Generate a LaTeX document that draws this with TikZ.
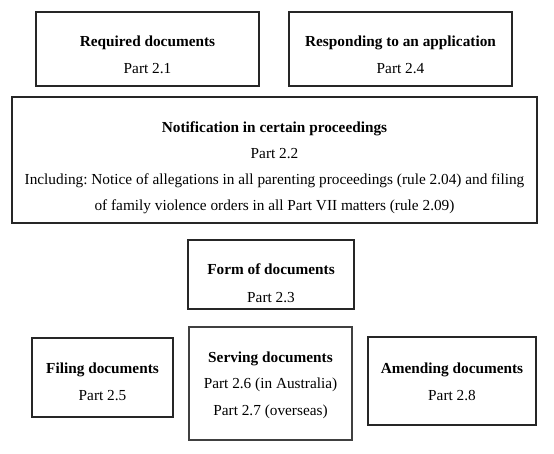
\documentclass[tikz,border=0pt]{standalone}
\usepackage{fontspec}
\setmainfont{Liberation Serif}
\begin{document}
\frenchspacing
\begin{tikzpicture}[x=1pt,y=-1pt,
  box/.style={draw=black!85,line width=1.1pt,inner sep=0pt},
  txt/.style={anchor=base,inner sep=0pt,font=\fontsize{15.3}{17}\selectfont},
  ttl/.style={txt,font=\fontsize{15.3}{17}\selectfont\bfseries}]
\useasboundingbox (0,0) rectangle (554,454);
% boxes
\node[box,minimum width=223pt,minimum height=74pt] (req) at (147.5,49) {};
\node[box,minimum width=223pt,minimum height=74pt] (resp) at (400.5,49) {};
\node[box,minimum width=525pt,minimum height=126pt] (notif) at (274.5,160) {};
\node[box,minimum width=166pt,minimum height=69pt] (form) at (271,274.5) {};
\node[box,minimum width=141pt,minimum height=79pt] (fil) at (102.5,377.5) {};
\node[box,draw=black!75,line width=1.4pt,minimum width=163pt,minimum height=113pt] (serv) at (270.5,383.5) {};
\node[box,minimum width=168pt,minimum height=88pt] (amend) at (452,381) {};
% texts
\node[ttl] (reqT) at (147.5,47) {Required documents};
\node[txt] (reqP) at (147.5,74) {Part 2.1};
\node[ttl] (respT) at (400.5,47) {Responding to an application};
\node[txt] (respP) at (400.5,74) {Part 2.4};
\node[ttl] (notT) at (274.5,133) {Notification in certain proceedings};
\node[txt] (notP) at (274.5,159) {Part 2.2};
\node[txt] (notL1) at (274.5,185) {Including: Notice of allegations in all parenting proceedings (rule 2.04) and filing};
\node[txt] (notL2) at (274.5,211) {of family violence orders in all Part VII matters (rule 2.09)};
\node[ttl] (formT) at (271,275) {Form of documents};
\node[txt] (formP) at (271,302) {Part 2.3};
\node[ttl] (filT) at (102.5,373) {Filing documents};
\node[txt] (filP) at (102.5,400) {Part 2.5};
\node[ttl] (servT) at (270.5,362) {Serving documents};
\node[txt] (servP1) at (270.5,388) {Part 2.6 (in Australia)};
\node[txt] (servP2) at (270.5,415) {Part 2.7 (overseas)};
\node[ttl] (amT) at (452,373) {Amending documents};
\node[txt] (amP) at (452,400) {Part 2.8};
\end{tikzpicture}
\end{document}
